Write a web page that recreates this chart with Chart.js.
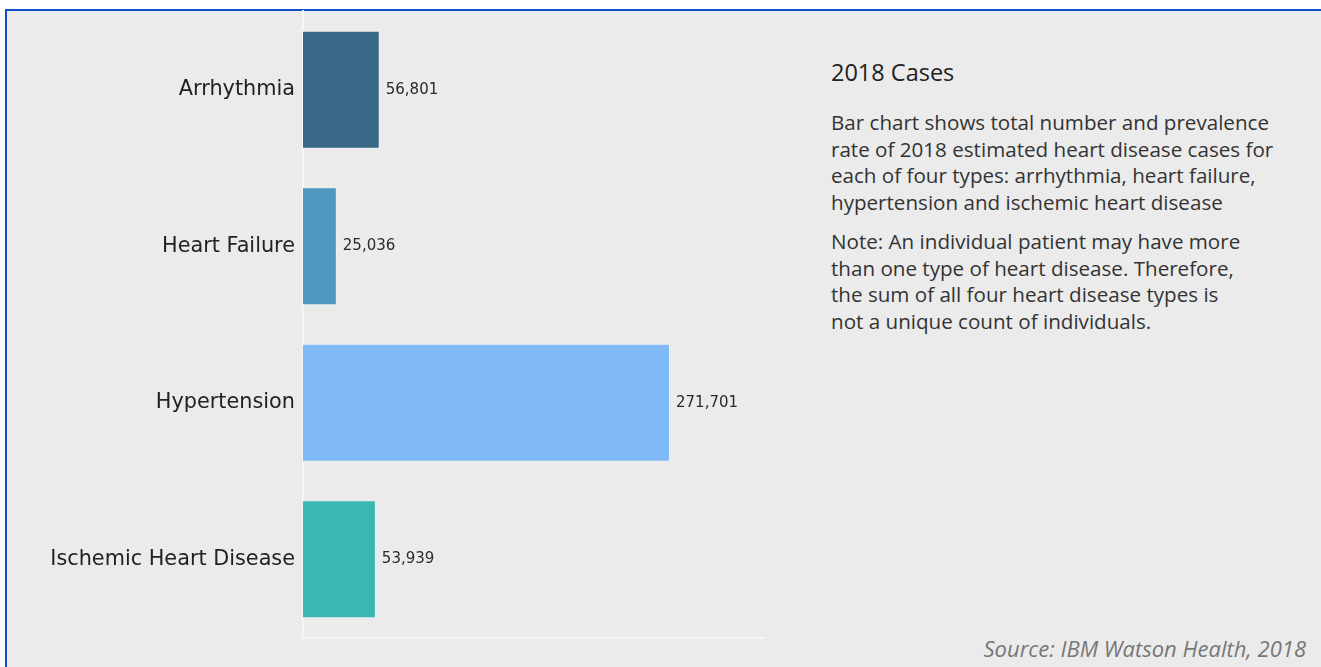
<!DOCTYPE html>
<html>
<head>
<meta charset="utf-8">
<script src="https://cdn.jsdelivr.net/npm/chart.js@4"></script>
<style>
  body { margin: 0; background: #fff; width: 1321px; height: 667px; overflow: hidden; position: relative; }
  .frame { position: absolute; left: 5px; top: 9px; width: 1330px; height: 680px;
           border-left: 2px solid #0d4fc8; border-top: 2px solid #0d4fc8; background: #ebebeb; }
  .chart-box { position: absolute; left: 7px; top: -9px; width: 758px; height: 667px; }
  .notes { position: absolute; left: 831px; top: 56px; width: 480px;
           font-family: "Open Sans", Lato, sans-serif; color: #333; }
  .notes h2 { margin: 0 0 21px 0; font-size: 23.5px; font-weight: normal; color: #222; line-height: 32px; }
  .notes p { margin: 0 0 12px 0; font-size: 20.6px; line-height: 26.7px; }
  .source { position: absolute; right: 15px; top: 634px; font-family: "Open Sans", Lato, sans-serif;
            font-style: italic; font-size: 22px; line-height: 28px; color: #777; }
</style>
</head>
<body>
<div class="frame"></div>
<div class="chart-box"><canvas id="cases"></canvas></div>

<div class="notes">
  <h2>2018 Cases</h2>
  <p>Bar chart shows total number and prevalence<br>rate of 2018 estimated heart disease cases for<br>each of four types: arrhythmia, heart failure,<br>hypertension and ischemic heart disease</p>
  <p>Note: An individual patient may have more<br>than one type of heart disease. Therefore,<br>the sum of all four heart disease types is<br>not a unique count of individuals.</p>
</div>
<div class="source">Source: IBM Watson Health, 2018</div>

<script>
const diseaseTypes = ['Arrhythmia', 'Heart Failure', 'Hypertension', 'Ischemic Heart Disease'];
const caseCounts = [56801, 25036, 271701, 53939];
const barColors = ['#386a87', '#4e98c0', '#7fbaf6', '#3ab7b3'];

// number next to the end of each bar
const valueLabels = {
  id: 'valueLabels',
  afterDatasetsDraw(chart) {
    const ctx = chart.ctx;
    const meta = chart.getDatasetMeta(0);
    ctx.save();
    ctx.font = '15px "DejaVu Sans"';
    ctx.fillStyle = '#2a2a2a';
    ctx.textBaseline = 'middle';
    ctx.textAlign = 'left';
    meta.data.forEach((bar, i) => {
      ctx.fillText(caseCounts[i].toLocaleString('en-US'), bar.x + 6, bar.y);
    });
    ctx.restore();
  }
};

new Chart(document.getElementById('cases'), {
  type: 'bar',
  data: {
    labels: diseaseTypes,
    datasets: [{
      data: caseCounts,
      backgroundColor: barColors,
      borderColor: 'rgba(255,255,255,0.25)',
      borderWidth: 1,
      categoryPercentage: 1,
      barPercentage: 0.755
    }]
  },
  options: {
    indexAxis: 'y',
    responsive: true,
    maintainAspectRatio: false,
    animation: false,
    layout: { padding: { top: 0, right: 0, bottom: 5, left: 0 } },
    plugins: { legend: { display: false }, tooltip: { enabled: false } },
    scales: {
      x: {
        min: 0,
        max: 342000,
        ticks: { display: false },
        grid: { display: false, drawTicks: false },
        border: { display: true, color: '#f5f5f5', width: 2 },
        afterFit(scale) { scale.height = 0; }
      },
      y: {
        ticks: { font: { family: 'DejaVu Sans', size: 20.8 }, color: '#222', padding: 8 },
        grid: { display: false, drawTicks: false },
        border: { display: true, color: '#f5f5f5', width: 2 },
        afterFit(scale) { scale.width = 296; }
      }
    }
  },
  plugins: [valueLabels]
});
</script>
</body>
</html>
